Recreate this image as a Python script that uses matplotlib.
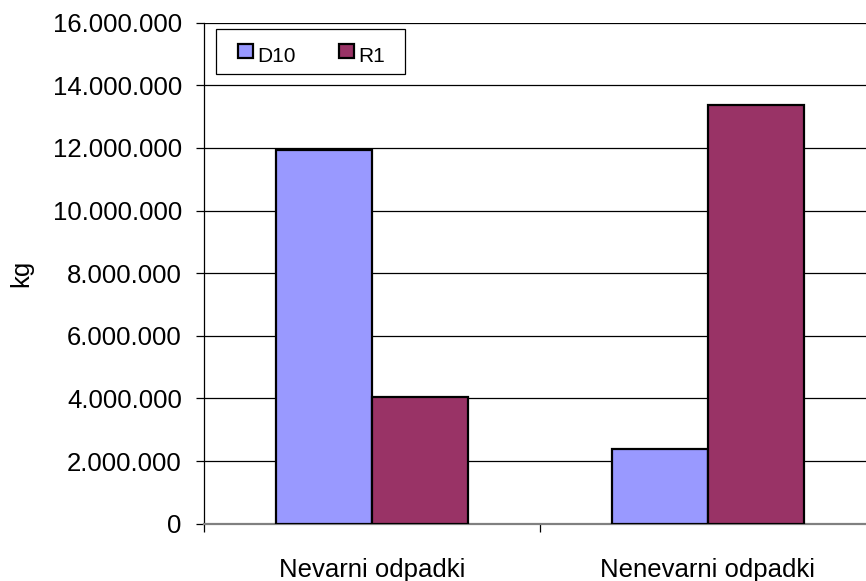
import matplotlib
matplotlib.use("Agg")
import matplotlib.pyplot as plt
from matplotlib.ticker import FuncFormatter, FixedLocator
from matplotlib.patches import Rectangle
import numpy as np

plt.rcParams['font.family'] = ['Liberation Sans', 'DejaVu Sans']

categories = ["Nevarni odpadki", "Nenevarni odpadki"]
series_names = ["D10", "R1"]
d10_values = [11950000, 2380000]
r1_values = [4060000, 13380000]
colors = ["#9999FF", "#993366"]

W, H = 866, 581
fig = plt.figure(figsize=(W / 100, H / 100), dpi=100)


def fx(px):
    return px / W


def fy(py):
    return 1 - py / H


left, right = 204, 876
bottom, top = 523.7, 22.7
ax = fig.add_axes([fx(left), fy(bottom), (right - left) / W, (bottom - top) / H])

x = np.arange(len(categories))
bw = 96 / 336
ax.bar(x - bw / 2, d10_values, bw, color=colors[0], edgecolor="black", linewidth=1.6, zorder=3)
ax.bar(x + bw / 2, r1_values, bw, color=colors[1], edgecolor="black", linewidth=1.6, zorder=3)

ax.set_xlim(-0.5, 1.5)
ax.set_ylim(0, 16000000)
ax.set_yticks(np.arange(0, 16000001, 2000000))
ax.yaxis.set_major_formatter(FuncFormatter(lambda v, p: f"{int(v):,}".replace(",", ".")))
ax.grid(axis="y", color="black", linewidth=0.9, zorder=0)
ax.tick_params(axis="y", length=6, width=0.9, labelsize=18.5, pad=10, color="black")

ax.set_xticks(x)
ax.set_xticklabels(categories, fontsize=18.5)
ax.tick_params(axis="x", which="major", length=0, pad=24.5)
ax.xaxis.set_minor_locator(FixedLocator([-0.5, 0.5, 1.5]))
ax.tick_params(axis="x", which="minor", length=6, width=0.9, color="black")

for s in ["top", "right"]:
    ax.spines[s].set_visible(False)
ax.spines["left"].set_linewidth(0.9)
ax.spines["left"].set_bounds(0, 16000000)
ax.spines["bottom"].set_color("#808080")
ax.spines["bottom"].set_linewidth(1.6)

ax.set_ylabel("kg", fontsize=18.5, labelpad=14)

# Legend box with the two series keys
frame = Rectangle((fx(216), fy(74)), fx(405) - fx(216), fy(29) - fy(74),
                  transform=fig.transFigure, facecolor="white", edgecolor="black",
                  linewidth=0.9, zorder=5)
fig.patches.append(frame)
key_x = [238, 339]
for kx, name, c in zip(key_x, series_names, colors):
    fig.patches.append(Rectangle((fx(kx), fy(57.5)), fx(kx + 14.5) - fx(kx), fy(43.5) - fy(57.5),
                                 transform=fig.transFigure, facecolor=c, edgecolor="black",
                                 linewidth=1.6, zorder=6))
    fig.text(fx(kx + 19), fy(61.7), name, fontsize=15, va="baseline", ha="left", zorder=6)

fig.savefig("out.png", dpi=100)
